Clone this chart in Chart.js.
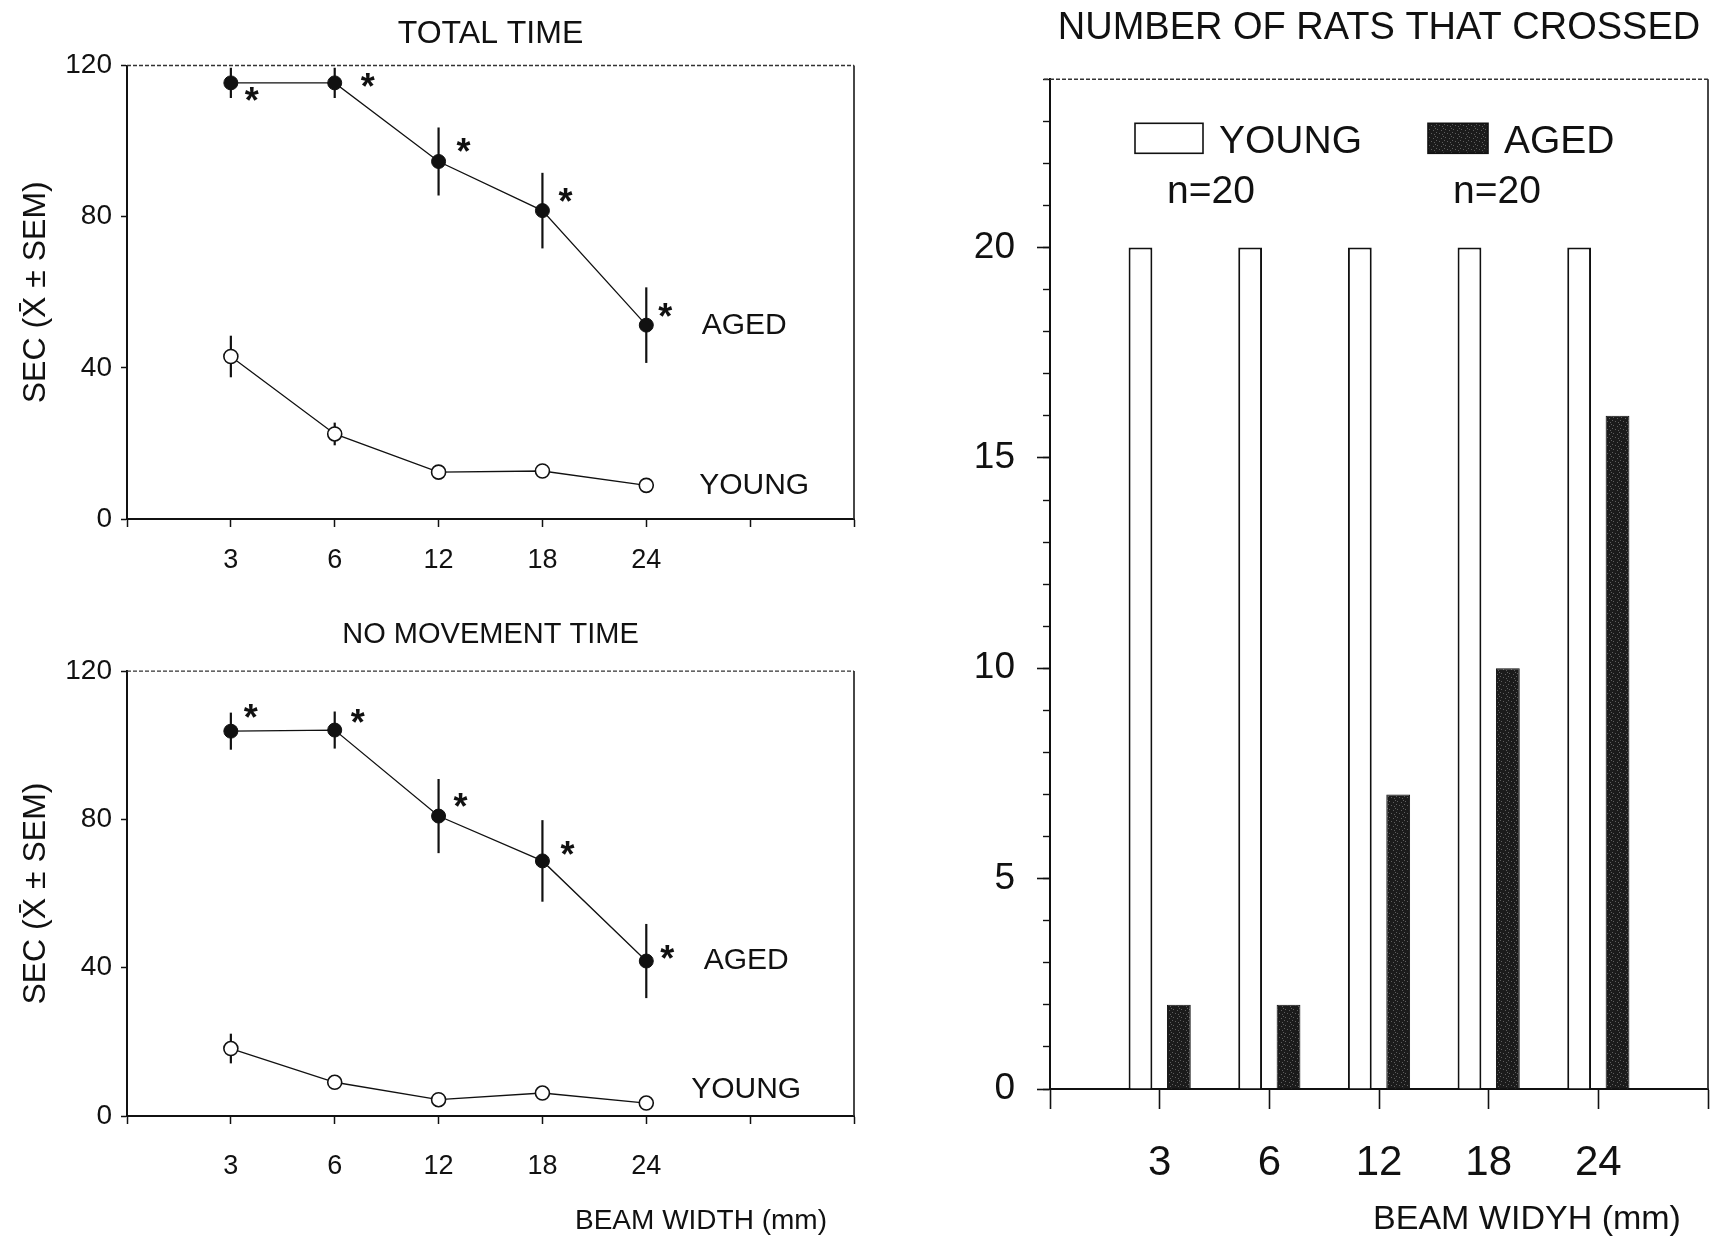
<!DOCTYPE html>
<html>
<head>
<meta charset="utf-8">
<script src="https://cdn.jsdelivr.net/npm/chart.js@4.4.0/dist/chart.umd.min.js"></script>
<style>
  html, body { margin: 0; padding: 0; background: #fff; }
  body { width: 1711px; height: 1241px; position: relative; overflow: hidden; }
  canvas { position: absolute; }
  #totalChart { left: 0; top: 0; }
  #noMoveChart { left: 0; top: 600px; }
  #crossedChart { left: 940px; top: 0; }
</style>
</head>
<body>
<canvas id="totalChart" width="900" height="600"></canvas>
<canvas id="noMoveChart" width="900" height="641"></canvas>
<canvas id="crossedChart" width="771" height="1241"></canvas>
<script>
// beam widths (mm), same for all three panels
const beamWidths = ['3', '6', '12', '18', '24'];

// total time, sec (mean and SEM)
const totalAged = [115.4, 115.4, 94.6, 81.6, 51.3];
const totalAgedSem = [4, 4, 9, 10, 10];
const totalYoung = [43, 22.5, 12.4, 12.7, 8.9];
const totalYoungSem = [5.5, 3, 1.5, 1.5, 1];

// no movement time, sec
const noMoveAged = [103.8, 104.1, 80.9, 68.8, 41.8];
const noMoveAgedSem = [5, 5, 10, 11, 10];
const noMoveYoung = [18.2, 9.1, 4.4, 6.2, 3.5];
const noMoveYoungSem = [4, 1.5, 1, 1.5, 1];

// number of rats that crossed
const crossedYoung = [20, 20, 20, 20, 20];
const crossedAged = [2, 2, 7, 10, 16];
const groupSizes = [20, 20];

const timeTicks = [0, 40, 80, 120];
const countTicks = [0, 5, 10, 15, 20];

const ink = '#111';
const FONT = '"Liberation Sans", Arial, sans-serif';
Chart.defaults.font.family = FONT;
Chart.defaults.color = ink;

// dark speckled fill like the scanned bars
function speckle() {
    const c = document.createElement('canvas');
    c.width = 8; c.height = 8;
    const g = c.getContext('2d');
    g.fillStyle = '#1b1b1b';
    g.fillRect(0, 0, 8, 8);
    g.fillStyle = '#5e5e5e';
    [[1, 1], [5, 2], [3, 5], [6, 6], [0, 4], [7, 0]].forEach(([px, py]) => g.fillRect(px, py, 1, 1));
    return g.createPattern(c, 'repeat');
}

const errorBars = {
    id: 'errorBars',
    beforeDatasetsDraw(chart) {
        const { ctx } = chart;
        const y = chart.scales.y;
        chart.data.datasets.forEach((ds, di) => {
            if (!ds.sem) return;
            const meta = chart.getDatasetMeta(di);
            ctx.save();
            ctx.strokeStyle = ink;
            ctx.lineWidth = 2.2;
            meta.data.forEach((pt, i) => {
                const v = ds.data[i].y, e = ds.sem[i];
                ctx.beginPath();
                ctx.moveTo(pt.x, y.getPixelForValue(v + e));
                ctx.lineTo(pt.x, y.getPixelForValue(v - e));
                ctx.stroke();
            });
            ctx.restore();
        });
    }
};

const notes = {
    id: 'notes',
    afterDatasetsDraw(chart, args, opts) {
        const { ctx, chartArea: a } = chart;
        const x = chart.scales.x, y = chart.scales.y;
        ctx.save();
        ctx.fillStyle = ink;
        ctx.textAlign = 'center';
        ctx.textBaseline = 'middle';
        if (opts.stars) {
            // significance marks next to the aged points
            ctx.font = 'bold 36px ' + FONT;
            chart.getDatasetMeta(0).data.forEach((pt, i) => {
                const [dx, dy] = opts.stars[i];
                ctx.fillText('*', pt.x + dx, pt.y + dy + 10);
            });
        }
        (opts.names || []).forEach(n => {
            const ds = chart.data.datasets[n.dataset];
            const last = ds.data[ds.data.length - 1];
            ctx.font = '30px ' + FONT;
            ctx.fillText(ds.label, x.getPixelForValue(5) + n.dx, y.getPixelForValue(last.y) + n.dy);
        });
        if (opts.caption) {
            const c = opts.caption;
            ctx.font = c.size + 'px ' + FONT;
            ctx.fillText(c.text, a.right + c.dx, a.bottom + c.dy);
        }
        ctx.restore();
    }
};

const frame = {
    id: 'frame',
    afterDraw(chart, args, opts) {
        const { ctx, chartArea: a } = chart;
        ctx.save();
        ctx.strokeStyle = '#333';
        ctx.lineWidth = 1.4;
        ctx.setLineDash([4, 2]);
        ctx.beginPath();
        ctx.moveTo(a.left - (opts.lead || 0), a.top);
        ctx.lineTo(a.right, a.top);
        ctx.stroke();
        ctx.setLineDash([]);
        ctx.lineWidth = 1.8;
        ctx.beginPath();
        ctx.moveTo(a.right, a.top);
        ctx.lineTo(a.right, a.bottom);
        ctx.stroke();
        ctx.restore();
    }
};

const boxLegend = {
    id: 'boxLegend',
    afterDraw(chart, args, opts) {
        if (!opts.items) return;
        const { ctx, chartArea: a } = chart;
        ctx.save();
        ctx.font = '39px ' + FONT;
        ctx.textBaseline = 'alphabetic';
        ctx.textAlign = 'left';
        ctx.fillStyle = ink;
        opts.items.forEach((it, i) => {
            const ds = chart.data.datasets[i];
            const bx = a.left + it.dx, by = a.top + 44;
            ctx.fillStyle = ds.backgroundColor;
            ctx.fillRect(bx, by, it.w, 30);
            ctx.strokeStyle = ink;
            ctx.lineWidth = 1.6;
            ctx.strokeRect(bx, by, it.w, 30);
            ctx.fillStyle = ink;
            ctx.fillText(ds.label, bx + it.w + 16, by + 30);
            ctx.fillText('n=' + groupSizes[i], a.left + it.ndx, a.top + 124);
        });
        ctx.restore();
    }
};

function timeChart(id, titleText, aged, agedSem, young, youngSem, look) {
    return new Chart(document.getElementById(id), {
        type: 'line',
        data: {
            datasets: [
                {
                    label: 'AGED',
                    data: aged.map((v, i) => ({ x: i, y: v })),
                    sem: agedSem,
                    borderColor: ink,
                    borderWidth: 1.3,
                    pointRadius: 7,
                    pointBackgroundColor: ink,
                    pointBorderColor: ink,
                    pointBorderWidth: 1
                },
                {
                    label: 'YOUNG',
                    data: young.map((v, i) => ({ x: i, y: v })),
                    sem: youngSem,
                    borderColor: ink,
                    borderWidth: 1.3,
                    pointRadius: 7,
                    pointBackgroundColor: '#fff',
                    pointBorderColor: ink,
                    pointBorderWidth: 1.6
                }
            ]
        },
        options: {
            responsive: false,
            animation: false,
            layout: { padding: { left: 0, right: 46, top: 0, bottom: 0 } },
            plugins: {
                legend: { display: false },
                tooltip: { enabled: false },
                title: {
                    display: true,
                    text: titleText,
                    fullSize: false,
                    color: ink,
                    font: { size: look.titleSize, weight: 'normal' },
                    padding: look.titlePad
                },
                notes: { stars: look.stars, names: look.names, caption: look.caption },
                frame: {}
            },
            scales: {
                x: {
                    type: 'linear',
                    min: -1,
                    max: 6,
                    afterFit(s) { s.height = look.xHeight; s.paddingLeft = 0; s.paddingRight = 0; },
                    ticks: {
                        stepSize: 1,
                        autoSkip: false,
                        maxRotation: 0,
                        padding: look.xPad,
                        font: { size: 27 },
                        callback: v => beamWidths[v] || ''
                    },
                    grid: { drawOnChartArea: false, tickLength: 8, tickColor: ink, tickWidth: 1.5 },
                    border: { color: ink, width: 2 }
                },
                y: {
                    min: 0,
                    max: 120,
                    afterFit(s) { s.width = 127; },
                    afterBuildTicks(s) { s.ticks = timeTicks.map(v => ({ value: v })); },
                    ticks: { padding: 9, font: { size: 28 } },
                    grid: { drawOnChartArea: false, tickLength: 6, tickColor: ink, tickWidth: 1.5 },
                    border: { color: ink, width: 2 },
                    title: {
                        display: true,
                        text: 'SEC (X\u0304 \u00B1 SEM)',
                        color: ink,
                        font: { size: 32 },
                        padding: { top: 17, bottom: 0 }
                    }
                }
            }
        },
        plugins: [errorBars, notes, frame]
    });
}

timeChart('totalChart', 'TOTAL TIME', totalAged, totalAgedSem, totalYoung, totalYoungSem, {
    titleSize: 32,
    titlePad: { top: 14.5, bottom: 12.6 },
    xHeight: 81,
    xPad: 17,
    stars: [[21, 10], [33, -4], [25, -17], [23, -17], [19, -16]],
    names: [{ dataset: 0, dx: -6, dy: 1 }, { dataset: 1, dx: 4, dy: 0 }]
});

timeChart('noMoveChart', 'NO MOVEMENT TIME', noMoveAged, noMoveAgedSem, noMoveYoung, noMoveYoungSem, {
    titleSize: 29,
    titlePad: { top: 17.6, bottom: 18.7 },
    xHeight: 125,
    xPad: 26,
    stars: [[20, -21], [23, -15], [22, -17], [25, -14], [21, -10]],
    names: [{ dataset: 0, dx: -4, dy: 0 }, { dataset: 1, dx: -4, dy: -13 }],
    caption: { text: 'BEAM WIDTH (mm)', size: 28, dx: -153, dy: 105 }
});

const agedFill = speckle();

new Chart(document.getElementById('crossedChart'), {
    type: 'bar',
    data: {
        datasets: [
            {
                label: 'YOUNG',
                data: crossedYoung.map((v, i) => ({ x: i + 1, y: v })),
                backgroundColor: '#fff',
                borderColor: ink,
                borderWidth: 2,
                categoryPercentage: 0.70,
                barPercentage: 0.62
            },
            {
                label: 'AGED',
                data: crossedAged.map((v, i) => ({ x: i + 1, y: v })),
                backgroundColor: agedFill,
                borderColor: ink,
                borderWidth: 1,
                categoryPercentage: 0.70,
                barPercentage: 0.62
            }
        ]
    },
    options: {
        responsive: false,
        animation: false,
        layout: { padding: { left: 0, right: 3, top: 0, bottom: 0 } },
        plugins: {
            legend: { display: false },
            tooltip: { enabled: false },
            title: {
                display: true,
                text: 'NUMBER OF RATS THAT CROSSED',
                fullSize: false,
                color: ink,
                font: { size: 38, weight: 'normal' },
                padding: { top: 5.6, bottom: 28.1 }
            },
            notes: { caption: { text: 'BEAM WIDYH (mm)', size: 34, dx: -181, dy: 131 } },
            frame: { lead: 6 },
            boxLegend: { items: [{ dx: 85, w: 68, ndx: 117 }, { dx: 378, w: 60, ndx: 403 }] }
        },
        scales: {
            x: {
                type: 'linear',
                min: 0,
                max: 6,
                offset: false,
                afterFit(s) { s.height = 152; s.paddingLeft = 0; s.paddingRight = 0; },
                ticks: {
                    stepSize: 1,
                    autoSkip: false,
                    maxRotation: 0,
                    padding: 29.6,
                    font: { size: 42 },
                    callback: v => beamWidths[v - 1] || ''
                },
                grid: { offset: false, drawOnChartArea: false, tickLength: 20, tickColor: ink, tickWidth: 1.6 },
                border: { color: ink, width: 2 }
            },
            y: {
                position: 'left',
                weight: 1,
                min: 0,
                max: 24,
                afterFit(s) { s.width = 110; },
                afterBuildTicks(s) { s.ticks = countTicks.map(v => ({ value: v })); },
                ticks: { padding: 22, font: { size: 37 } },
                grid: { drawOnChartArea: false, tickLength: 13, tickColor: ink, tickWidth: 1.6 },
                border: { color: ink, width: 2 }
            },
            yMinor: {
                position: 'left',
                weight: 0,
                min: 0,
                max: 24,
                afterFit(s) { s.width = 0; },
                ticks: { stepSize: 1, display: false },
                grid: { drawOnChartArea: false, tickLength: 7, tickColor: ink, tickWidth: 1.4 },
                border: { display: false }
            }
        }
    },
    plugins: [notes, frame, boxLegend]
});
</script>
</body>
</html>
